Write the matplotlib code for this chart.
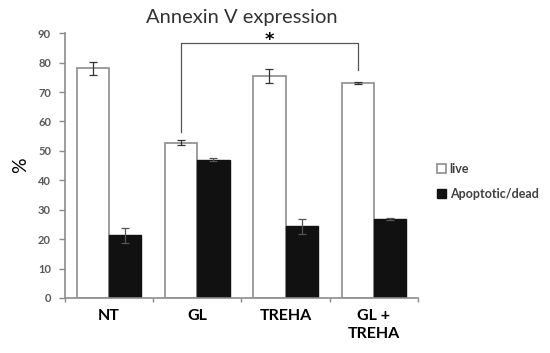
import numpy as np
import matplotlib.pyplot as plt

plt.rcParams['font.family'] = ['Lato', 'DejaVu Sans']

groups = ['NT', 'GL', 'TREHA', 'GL +\nTREHA']
live = [78.0, 52.8, 75.5, 73.0]
live_err = [2.3, 0.8, 2.3, 0.4]
dead = [21.3, 47.0, 24.3, 26.8]
dead_err = [2.5, 0.5, 2.5, 0.3]
yticks = [0, 10, 20, 30, 40, 50, 60, 70, 80, 90]

fig = plt.figure(figsize=(5.5, 3.53), dpi=100)
ax = fig.add_axes([0.118, 0.156, 0.642, 0.75])

x = np.arange(len(groups))
w = 0.365
grey = '#8c8c8c'

ax.bar(x - w / 2, live, w, color='white', edgecolor=grey, linewidth=1.2, label='live',
       yerr=live_err, error_kw=dict(ecolor='#333333', elinewidth=0.9, capsize=3, capthick=0.9))
ax.bar(x + w / 2, dead, w, color='#111111', edgecolor='#111111', linewidth=1.0, label='Apoptotic/dead',
       yerr=dead_err, error_kw=dict(ecolor='#555555', elinewidth=0.9, capsize=3, capthick=0.9))

ax.set_xlim(-0.5, len(groups) - 0.5)
ax.set_ylim(0, 90)
ax.set_yticks(yticks)
ax.set_yticklabels([str(t) for t in yticks], fontsize=8, fontweight='bold', color='#595959')
ax.set_xticks(x)
ax.set_xticklabels(groups, fontsize=11.5, fontweight='bold', linespacing=1.35)
ax.tick_params(axis='x', length=0, pad=8)
ax.set_xticks(np.arange(-0.5, len(groups)), minor=True)
ax.tick_params(axis='x', which='minor', length=3, color=grey, width=1)
ax.tick_params(axis='y', length=4, color=grey, width=1, pad=6)

for s in ['top', 'right']:
    ax.spines[s].set_visible(False)
for s in ['left', 'bottom']:
    ax.spines[s].set_color(grey)
    ax.spines[s].set_linewidth(1.2)

ax.set_ylabel('%', fontsize=14, labelpad=6)
ax.set_title('Annexin V expression', fontsize=14.5, pad=7, x=0.5, color='#333333')

# significance bracket between GL live and GL + TREHA live
xl, xr = x[1] - w / 2, x[3] - w / 2
ax.plot([xl, xl, xr, xr], [56.5, 86.7, 86.7, 77.5], color='#555555', lw=0.9, clip_on=False)
ax.text((xl + xr) / 2, 90.8, '*', ha='center', va='top', fontsize=13, fontweight='bold',
        family='DejaVu Sans', clip_on=False)

ax.legend(loc='center left', bbox_to_anchor=(1.04, 0.44), borderaxespad=0, frameon=False,
          prop=dict(size=9, weight='bold'), labelcolor='#404040',
          handlelength=0.7, handleheight=0.7, handletextpad=0.3, labelspacing=1.0)

fig.savefig('out.png', dpi=100)
